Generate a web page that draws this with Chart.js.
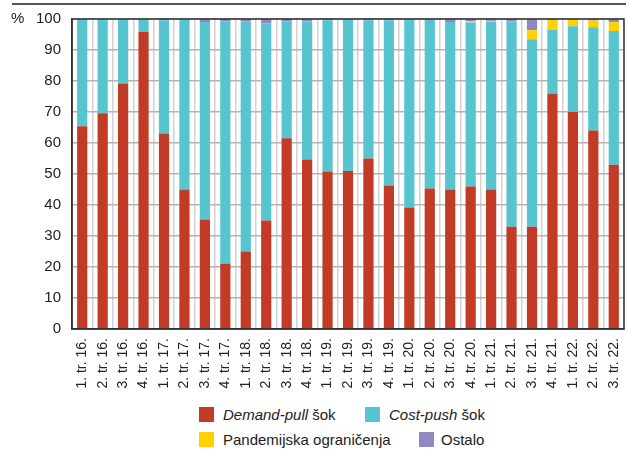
<!DOCTYPE html>
<html>
<head>
<meta charset="utf-8">
<script src="https://cdn.jsdelivr.net/npm/chart.js@4"></script>
<style>
    body { margin: 0; background: #fff; font-family: 'Liberation Sans', Arial, sans-serif; }
    #wrap { position: relative; width: 628px; height: 450px; }
    #topline { position: absolute; left: 12px; top: 3px; width: 614px; height: 2px; background: #555; }
    #chartBox { position: absolute; left: 0; top: 0; width: 628px; height: 400px; }
    .lg { position: absolute; font-size: 15px; color: #222; line-height: 16px; white-space: nowrap; }
    .sw { position: absolute; width: 15px; height: 15px; }
</style>
</head>
<body>
<div id="wrap">
    <div id="topline"></div>
    <div id="chartBox"><canvas id="chart"></canvas></div>
    <div class="sw" style="left:199px;top:407px;background:#c23b27"></div>
    <div class="lg" style="left:223px;top:407px"><i>Demand-pull</i> šok</div>
    <div class="sw" style="left:365px;top:407px;background:#56c5d0"></div>
    <div class="lg" style="left:389px;top:407px"><i>Cost-push</i> šok</div>
    <div class="sw" style="left:199px;top:432px;background:#ffd100"></div>
    <div class="lg" style="left:223px;top:432px">Pandemijska ograničenja</div>
    <div class="sw" style="left:419px;top:432px;background:#8f88c1"></div>
    <div class="lg" style="left:441px;top:432px">Ostalo</div>
</div>
<script>
const quarters = [
    '1. tr. 16.', '2. tr. 16.', '3. tr. 16.', '4. tr. 16.',
    '1. tr. 17.', '2. tr. 17.', '3. tr. 17.', '4. tr. 17.',
    '1. tr. 18.', '2. tr. 18.', '3. tr. 18.', '4. tr. 18.',
    '1. tr. 19.', '2. tr. 19.', '3. tr. 19.', '4. tr. 19.',
    '1. tr. 20.', '2. tr. 20.', '3. tr. 20.', '4. tr. 20.',
    '1. tr. 21.', '2. tr. 21.', '3. tr. 21.', '4. tr. 21.',
    '1. tr. 22.', '2. tr. 22.', '3. tr. 22.'
];
const demandPull = [65.4, 69.6, 79.2, 95.8, 63.1, 45, 35.3, 21, 25, 35, 61.5, 54.7, 50.8, 51, 55, 46.3, 39.2, 45.3, 45, 46, 45, 33, 33, 76, 70, 64, 53];
const costPush = [34.6, 30.4, 20.8, 4.2, 36.5, 55, 63.7, 78.2, 74.2, 63.5, 37.7, 44.6, 48.8, 49, 44.6, 53.3, 60.8, 54.7, 54, 52.9, 54, 66.2, 60.5, 20.5, 27.7, 33.3, 43.1];
const pandemic = [0, 0, 0, 0, 0, 0, 0, 0, 0, 0, 0, 0, 0, 0, 0, 0, 0, 0, 0, 0.4, 0.4, 0, 2.9, 3.2, 2, 2.2, 2.9];
const other = [0, 0, 0, 0, 0.4, 0, 1, 0.8, 0.8, 1.5, 0.8, 0.7, 0.4, 0, 0.4, 0.4, 0, 0, 1, 0.7, 0.6, 0.8, 3.6, 0.3, 0.3, 0.5, 1];
const yTicks = [0, 10, 20, 30, 40, 50, 60, 70, 80, 90, 100];

const FONT = "'Liberation Sans', Arial, sans-serif";

// frame round the plot and the % sign
const framePlugin = {
    id: 'frame',
    afterDraw(chart) {
        const { ctx, chartArea: a } = chart;
        ctx.save();
        ctx.strokeStyle = '#333';
        ctx.lineWidth = 1.5;
        ctx.strokeRect(a.left, a.top, a.right - a.left, a.bottom - a.top);
        ctx.fillStyle = '#222';
        ctx.font = '15px ' + FONT;
        ctx.textBaseline = 'middle';
        ctx.fillText('%', 11, a.top);
        ctx.restore();
    }
};

function ds(label, data, color) {
    return { label, data, backgroundColor: color, borderWidth: 0, barPercentage: 0.5, categoryPercentage: 1 };
}

new Chart(document.getElementById('chart'), {
    type: 'bar',
    data: {
        labels: quarters,
        datasets: [
            ds('Demand-pull šok', demandPull, '#c23b27'),
            ds('Cost-push šok', costPush, '#56c5d0'),
            ds('Pandemijska ograničenja', pandemic, '#ffd100'),
            ds('Ostalo', other, '#8f88c1')
        ]
    },
    options: {
        responsive: true,
        maintainAspectRatio: false,
        animation: false,
        layout: { padding: { top: 19, right: 4, left: 0, bottom: 0 } },
        plugins: { legend: { display: false }, tooltip: { enabled: false } },
        scales: {
            x: {
                stacked: true,
                afterFit: s => { s.height = 71; s.paddingLeft = 0; s.paddingRight = 0; },
                grid: { color: '#d2d2d2', lineWidth: 1.5, drawTicks: false },
                border: { color: '#333', width: 1.5 },
                ticks: {
                    color: '#222', font: { family: FONT, size: 14 },
                    minRotation: 90, maxRotation: 90, autoSkip: false, padding: 9
                }
            },
            y: {
                stacked: true,
                min: 0, max: 100,
                afterFit: s => { s.width = 72; s.paddingTop = 0; s.paddingBottom = 0; },
                afterBuildTicks: s => { s.ticks = yTicks.map(v => ({ value: v })); },
                grid: { color: '#b4b4b4', lineWidth: 1.5, drawTicks: false },
                border: { color: '#333', width: 1.5 },
                ticks: { color: '#222', font: { family: FONT, size: 15 }, padding: 11 }
            }
        }
    },
    plugins: [framePlugin]
});
</script>
</body>
</html>
